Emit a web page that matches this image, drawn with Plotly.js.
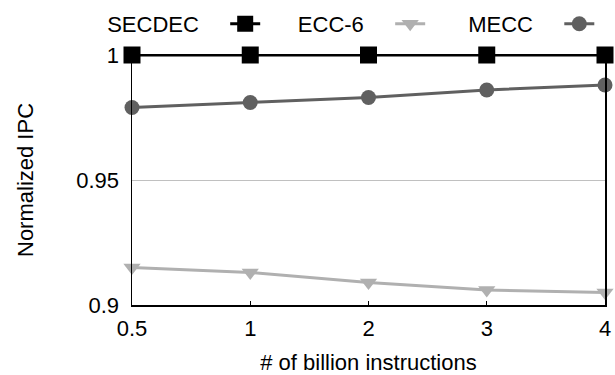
<!DOCTYPE html>
<html><head><meta charset="utf-8">
<script src="https://cdn.plot.ly/plotly-3.0.1.min.js"></script>
<style>html,body{margin:0;padding:0;background:#fff;}#chart{width:615px;height:375px;}</style>
</head><body><div id="chart"></div>
<script>
const categories = ['0.5', '1', '2', '3', '4'];
const secdec = [1, 1, 1, 1, 1];
const ecc6 = [0.915, 0.913, 0.909, 0.906, 0.905];
const mecc = [0.979, 0.981, 0.983, 0.986, 0.988];
const yTicks = [0.9, 0.95, 1];
const yTickLabels = ['0.9', '0.95', '1'];
const seriesNames = ['SECDEC', 'ECC-6', 'MECC'];

const font = {family: 'Liberation Sans, Arial, sans-serif', size: 22, color: '#000'};
const pad = '\u00a0\u00a0\u00a0';

const traces = [
  {x: categories, y: secdec, name: '', legend: 'legend', mode: 'lines+markers', cliponaxis: false,
   line: {color: '#000', width: 3}, marker: {symbol: 'square', size: 17, color: '#000'}},
  {x: categories, y: ecc6, name: '', legend: 'legend2', mode: 'lines+markers', cliponaxis: false,
   line: {color: '#b0b0b0', width: 3}, marker: {symbol: 'triangle-down', size: 15, color: '#b0b0b0'}},
  {x: categories, y: mecc, name: '', legend: 'legend3', mode: 'lines+markers', cliponaxis: false,
   line: {color: '#606060', width: 3}, marker: {symbol: 'circle', size: 15, color: '#606060'}}
];

function leg(x, title) {
  return {x: x, y: 0.992, xref: 'container', yref: 'container', xanchor: 'left', yanchor: 'top',
    orientation: 'h', bgcolor: 'rgba(0,0,0,0)', font: font, itemwidth: 30,
    title: {text: title + pad, side: 'left', font: font}, tracegroupgap: 0};
}

const layout = {
  width: 615, height: 375,
  margin: {l: 132, r: 10, t: 55, b: 70},
  paper_bgcolor: '#fff', plot_bgcolor: '#fff',
  font: font,
  showlegend: true,
  legend: leg(0.171, seriesNames[0]),
  legend2: leg(0.481, seriesNames[1]),
  legend3: leg(0.758, seriesNames[2]),
  xaxis: {
    type: 'category', range: [0, 4], showgrid: false, zeroline: false,
    showline: true, linecolor: '#000', linewidth: 1.5, mirror: true,
    ticks: 'inside', ticklen: 4, tickcolor: '#000', tickfont: font, ticklabelstandoff: 3,
    title: {text: '# of billion instructions', font: font, standoff: 19}
  },
  yaxis: {
    range: [0.9, 1], tickvals: yTicks, ticktext: yTickLabels,
    showgrid: true, gridcolor: '#c0c0c0', gridwidth: 1, zeroline: false,
    showline: true, linecolor: '#000', linewidth: 1.5, mirror: true,
    ticks: '', tickfont: font, ticklabelstandoff: 7,
    title: {text: 'Normalized IPC', font: font, standoff: 36}
  }
};

Plotly.newPlot('chart', traces, layout, {displayModeBar: false, staticPlot: true});
</script></body></html>
